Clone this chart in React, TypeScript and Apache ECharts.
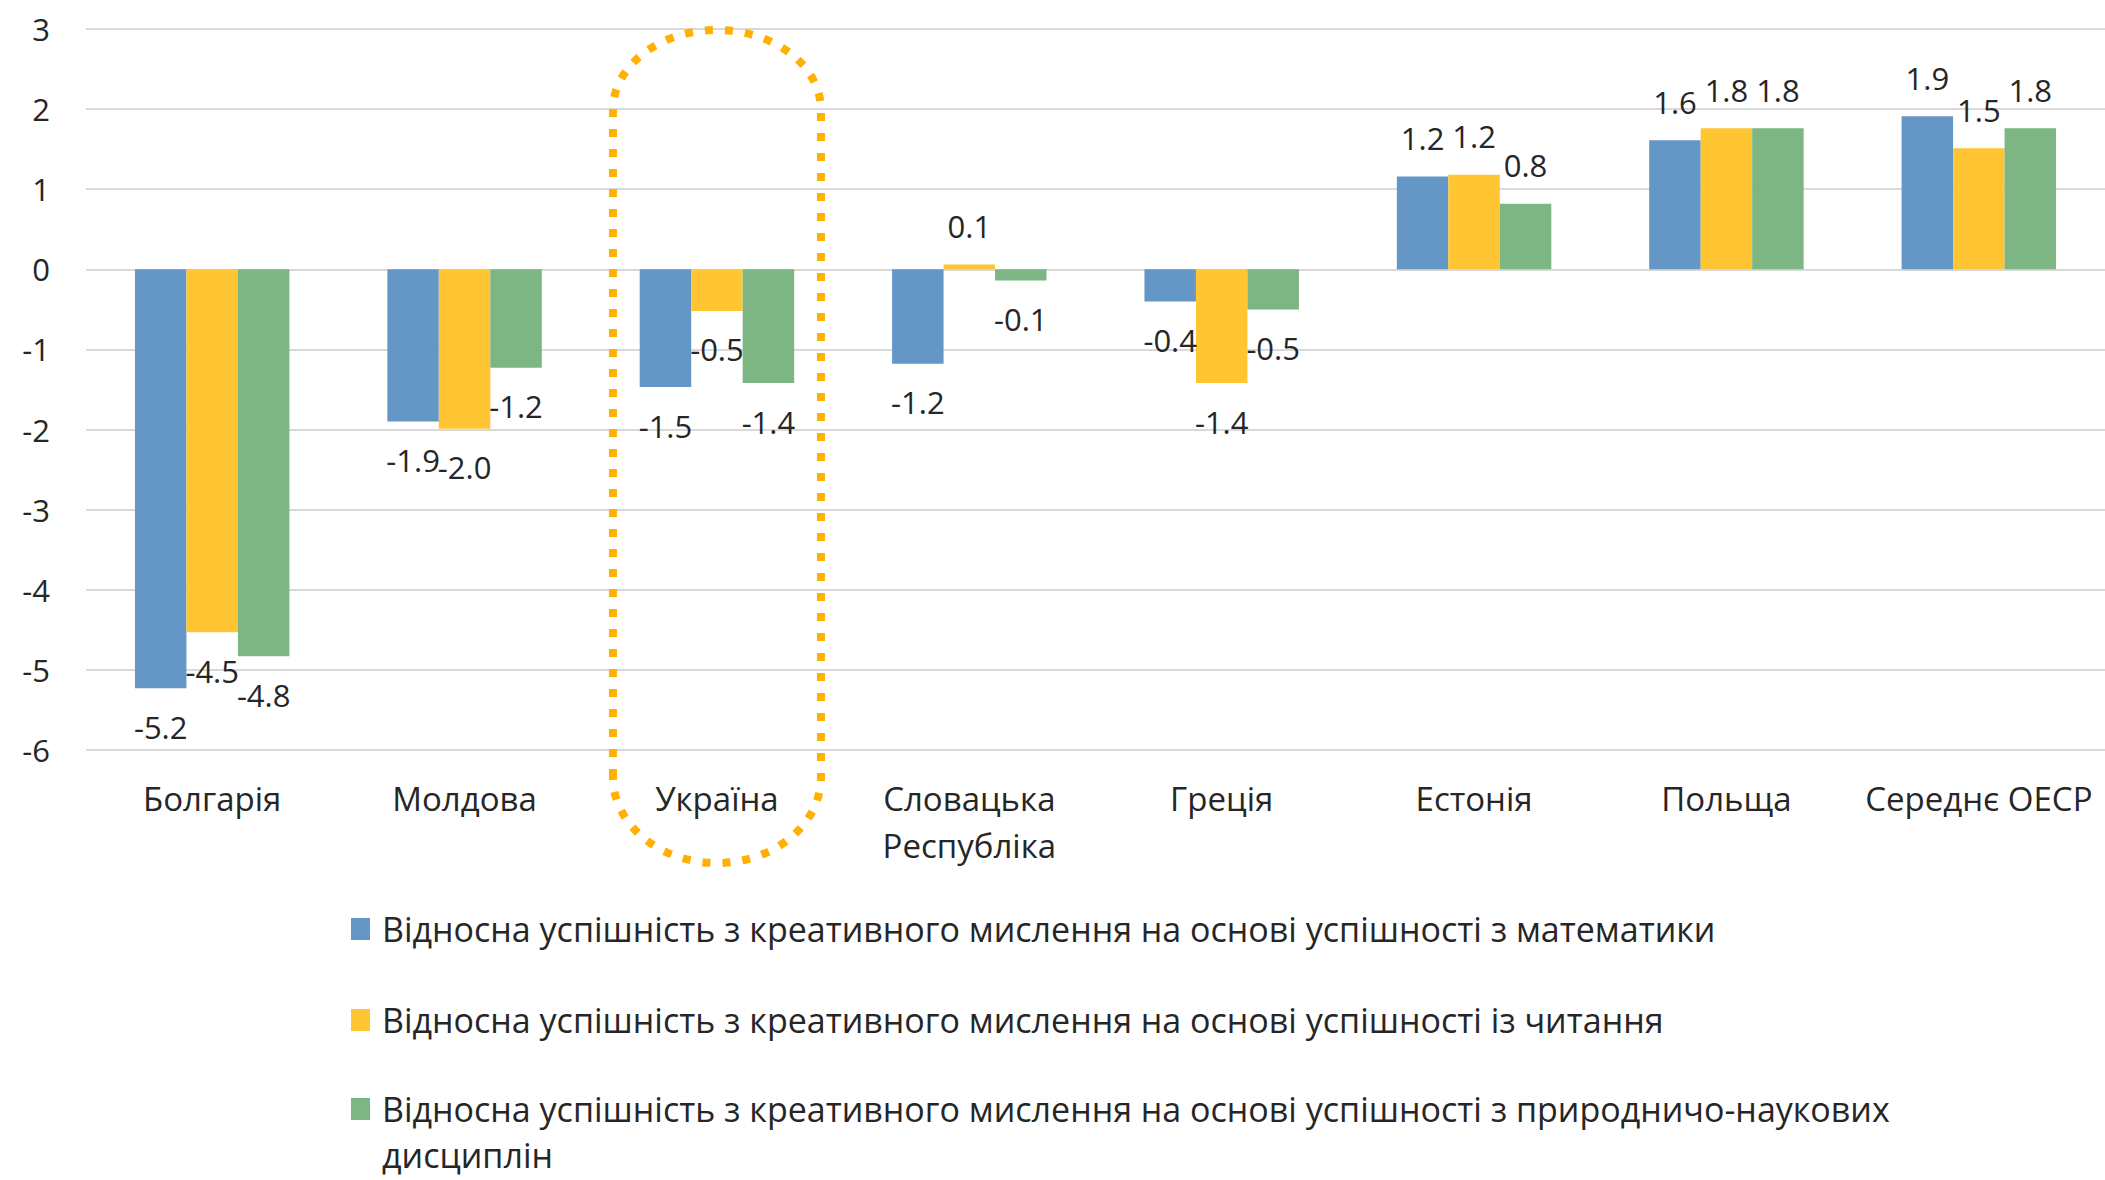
import React, { useEffect, useRef } from "react";
import * as echarts from "echarts";

const categories = [
  "Болгарія",
  "Молдова",
  "Україна",
  "Словацька\nРеспубліка",
  "Греція",
  "Естонія",
  "Польща",
  "Середнє ОЕСР",
];

const seriesNames = [
  "Відносна успішність з креативного мислення на основі успішності з математики",
  "Відносна успішність з креативного мислення на основі успішності із читання",
  "Відносна успішність з креативного мислення на основі успішності з природничо-наукових дисциплін",
];

const mathValues = [-5.23, -1.9, -1.47, -1.18, -0.4, 1.16, 1.61, 1.91];
const readingValues = [-4.53, -1.99, -0.52, 0.06, -1.42, 1.18, 1.76, 1.51];
const scienceValues = [-4.83, -1.23, -1.42, -0.14, -0.5, 0.82, 1.76, 1.76];

const colors = ["#6496C6", "#FFC532", "#7DB682"];

const yTicks = { min: -6, max: 3, interval: 1 };

const outlinePath =
  "M0,747 L0,80 C0,35.8 46.6,0 104,0 C161.4,0 208,35.8 208,80 L208,747 C208,794.5 161.4,833 104,833 C46.6,833 0,794.5 0,747 Z";
echarts.graphic.registerShape(
  "ukrOutline",
  echarts.graphic.extendPath(outlinePath, {}) as any
);

const FONT = "Open Sans";
const TEXT_COLOR = "#262626";

export default function App() {
  const ref = useRef<HTMLDivElement>(null);
  useEffect(() => {
    if (!ref.current) return;
    const chart = echarts.init(ref.current, undefined, { renderer: "svg" });
    const valuesList = [mathValues, readingValues, scienceValues];
    const series = valuesList.map((vals, i) => ({
      name: seriesNames[i],
      type: "bar",
      barGap: "0%",
      barCategoryGap: "38.8%",
      itemStyle: { color: colors[i] },
      data: vals.map((v) => ({
        value: v,
        label: { position: v >= 0 ? "top" : "bottom" },
      })),
      label: {
        show: true,
        distance: 23,
        fontFamily: FONT,
        fontSize: 31,
        color: TEXT_COLOR,
        formatter: (p: any) => Number(p.value).toFixed(1),
      },
    }));
    const legendText = {
      fontFamily: FONT,
      fontSize: 34,
      lineHeight: 46,
      color: TEXT_COLOR,
      padding: [0, 0, 0, 7],
    };
    const legendBase = {
      orient: "vertical",
      left: 351,
      padding: 0,
      itemWidth: 19,
      itemHeight: 22,
      icon: "rect",
      textStyle: legendText,
    };
    chart.setOption({
      animation: false,
      backgroundColor: "#ffffff",
      textStyle: { fontFamily: FONT },
      grid: { left: 86, right: 0, top: 29, height: 721, containLabel: false },
      xAxis: {
        type: "category",
        data: categories,
        axisLine: { show: false },
        axisTick: { show: false },
        axisLabel: {
          fontFamily: FONT,
          fontSize: 33,
          lineHeight: 47,
          color: TEXT_COLOR,
          margin: 25,
          interval: 0,
        },
      },
      yAxis: {
        type: "value",
        min: yTicks.min,
        max: yTicks.max,
        interval: yTicks.interval,
        axisLine: { show: false },
        axisTick: { show: false },
        axisLabel: {
          fontFamily: FONT,
          fontSize: 31,
          color: TEXT_COLOR,
          margin: 36,
        },
        splitLine: { lineStyle: { color: "#D9D9D9", width: 2 } },
      },
      legend: [
        { ...legendBase, top: 906, data: [seriesNames[0]] },
        { ...legendBase, top: 997, data: [seriesNames[1]] },
        {
          ...legendBase,
          top: 1086,
          itemHeight: 68,
          icon: "path://M0,0h19v22h-19z M9,67.99h0.01v0.01h-0.01z",
          data: [seriesNames[2]],
          formatter: (name: string) => name.replace(" дисциплін", "\nдисциплін"),
        },
      ],
      series,
    });
    const cx = chart.convertToPixel({ xAxisIndex: 0 }, "Україна") as number;
    const yTop = chart.convertToPixel({ yAxisIndex: 0 }, yTicks.max) as number;
    chart.setOption({
      graphic: [
        {
          type: "ukrOutline",
          x: cx - 104,
          y: yTop + 1,
          z: 100,
          style: {
            fill: "none",
            stroke: "#FFB000",
            lineWidth: 8,
            lineDash: [8, 12],
          },
        },
      ],
    });
    return () => chart.dispose();
  }, []);
  return (
    <div
      ref={ref}
      style={{ position: "fixed", left: 0, top: 0, width: 2105, height: 1180 }}
    />
  );
}
